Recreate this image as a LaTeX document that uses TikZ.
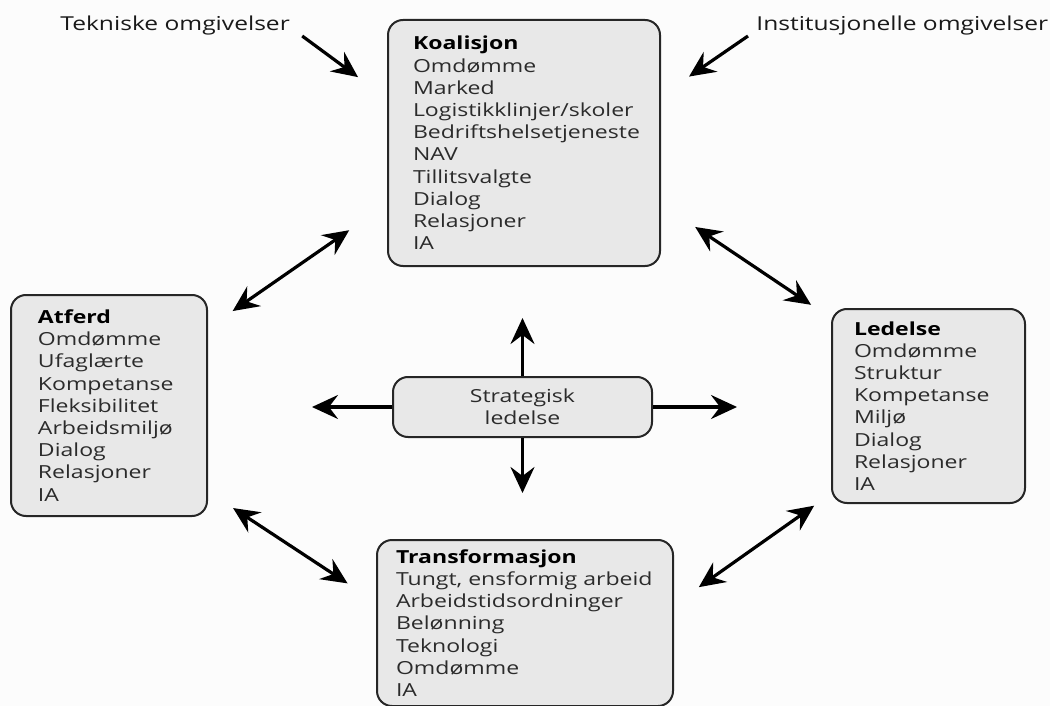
\documentclass[tikz,border=0pt]{standalone}
\usepackage{fontspec}
\setmainfont{Open Sans}[FakeStretch=1.28]
\usetikzlibrary{arrows.meta, positioning}

\definecolor{boksfyll}{HTML}{E8E8E8}
\definecolor{tekstgraa}{HTML}{2B2B2B}

\begin{document}
\begin{tikzpicture}[x=0.5pt, y=-0.5pt,
  boks/.style={draw=black!85, line width=1pt, fill=boksfyll, rounded corners=7.5pt,
    anchor=north west, align=left, inner ysep=0pt, text=tekstgraa,
    font=\fontsize{9}{11.1}\selectfont},
  etikett/.style={inner sep=0pt, text=black!90, font=\fontsize{9.6}{11.5}\selectfont},
  pil/.style={line width=1.6pt, -{Stealth[length=13pt, width=12pt, inset=4.5pt]}},
  dpil/.style={line width=1.6pt, {Stealth[length=13pt, width=12pt, inset=4.5pt]}-{Stealth[length=13pt, width=12pt, inset=4.5pt]}}]
\useasboundingbox [fill=black!1] (0,0) rectangle (1050,706);
% boksene
\node [boks, inner xsep=12.5pt, text width=111pt, minimum width=136pt, minimum height=123pt] (koal) at (387,19)
  {\textcolor{black}{\bfseries Koalisjon}\\ Omdømme\\ Marked\\ Logistikklinjer/skoler\\ Bedriftshelsetjeneste\\ NAV\\ Tillitsvalgte\\ Dialog\\ Relasjoner\\ IA};
\node [boks, inner xsep=13.5pt, text width=71pt, minimum width=98pt, minimum height=110.5pt] (atf) at (10,294)
  {\textcolor{black}{\bfseries Atferd}\\ Omdømme\\ Ufaglærte\\ Kompetanse\\ Fleksibilitet\\ Arbeidsmiljø\\ Dialog\\ Relasjoner\\ IA};
\node [boks, inner xsep=11pt, text width=74.5pt, minimum width=96.5pt, minimum height=97pt] (led) at (831,308)
  {\textcolor{black}{\bfseries Ledelse}\\ Omdømme\\ Struktur\\ Kompetanse\\ Miljø\\ Dialog\\ Relasjoner\\ IA};
\node [boks, inner xsep=9.5pt, text width=129pt, minimum width=148pt, minimum height=83pt] (trans) at (376,539)
  {\textcolor{black}{\bfseries Transformasjon}\\ Tungt, ensformig arbeid\\ Arbeidstidsordninger\\ Belønning\\ Teknologi\\ Omdømme\\ IA};
\node [boks, anchor=center, align=center, minimum width=129.5pt, minimum height=30pt] (strat) at (522.5,407)
  {Strategisk\\ ledelse};
% omgivelsene
\node [etikett, anchor=base west] (tek) at (60,31) {Tekniske omgivelser};
\node [etikett, anchor=base west] (inst) at (756,31) {Institusjonelle omgivelser};
\draw [pil, shorten >=18pt] ([xshift=6pt]tek.south east) -- (koal.162);
\draw [pil, shorten >=17pt] ([xshift=-4pt]inst.south west) -- (koal.19);
% piler mellom boksene
\draw [dpil, shorten <=23pt, shorten >=15pt] (koal.204) -- (atf.38.7);
\draw [dpil, shorten <=20.6pt, shorten >=12pt] (koal.336) -- (led.138.9);
\draw [dpil, shorten <=15pt, shorten >=17pt] (atf.319.9) -- (trans.172.7);
\draw [dpil, shorten <=10.3pt, shorten >=15.2pt] (led.222.1) -- (trans.7.6);
% strategisk ledelse
\coordinate (opp) at (522.5,318);
\coordinate (ned) at (522.5,493);
\coordinate (venstre) at (312,407);
\coordinate (hoyre) at (737,407);
\draw [pil] (strat.north) -- (opp);
\draw [pil] (strat.south) -- (ned);
\draw [pil] (strat.west) -- (venstre);
\draw [pil] (strat.east) -- (hoyre);
\end{tikzpicture}
\end{document}
